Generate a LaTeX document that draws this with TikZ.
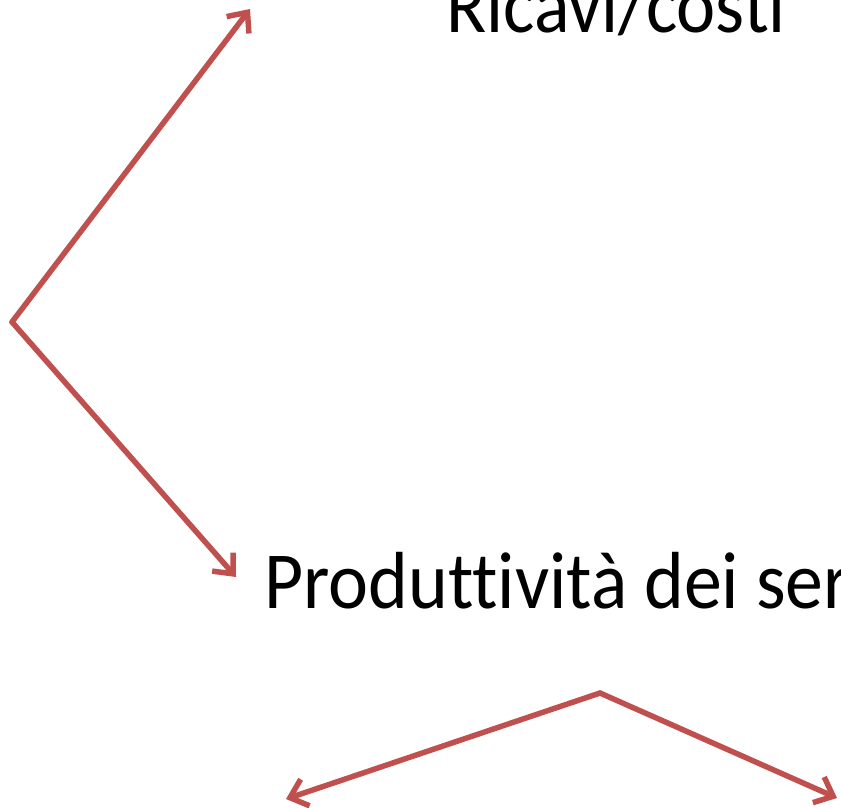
\documentclass[tikz,border=0pt]{standalone}
\usepackage{fontspec}
\setmainfont{Carlito}
\newfontfamily\slidefont[FakeStretch=0.915, Ligatures=NoCommon]{Carlito}
\newfontfamily\slidefontwide[FakeStretch=0.935, Ligatures=NoCommon]{Carlito}
\usepackage{tikz}
\usetikzlibrary{arrows.meta}

\definecolor{redarrow}{HTML}{C0504D}

\tikzset{
    arrowline/.style={draw=redarrow, line width=5.5pt, line cap=round, line join=round,
        -{Straight Barb[length=16pt, width=28pt, line width=5.5pt]}},
    bigtext/.style={font=\slidefont\fontsize{81}{90}\selectfont, inner sep=0pt, anchor=base west}
}

\begin{document}
\begin{tikzpicture}[x=1pt, y=-1pt]
    \useasboundingbox (0,0) rectangle (841,807);
    \clip (0,0) rectangle (841,807);
    \node[bigtext] (ricavi) at (446,32) {Ricavi/costi};
    \node[bigtext, font=\slidefontwide\fontsize{81}{90}\selectfont] (produttivita) at (264,608) {Produttività dei servizi};
    \coordinate (fork) at (12,322);
    \coordinate (split) at (600,693);
    \coordinate (uptip) at (250,9);
    \coordinate (downtip) at (236,577);
    \coordinate (lefttip) at (286,799);
    \coordinate (righttip) at (837,798);
    \draw[arrowline] (fork) -- (uptip);
    \draw[arrowline] (fork) -- (downtip);
    \draw[arrowline] (split) -- (lefttip);
    \draw[arrowline] (split) -- (righttip);
\end{tikzpicture}
\end{document}
